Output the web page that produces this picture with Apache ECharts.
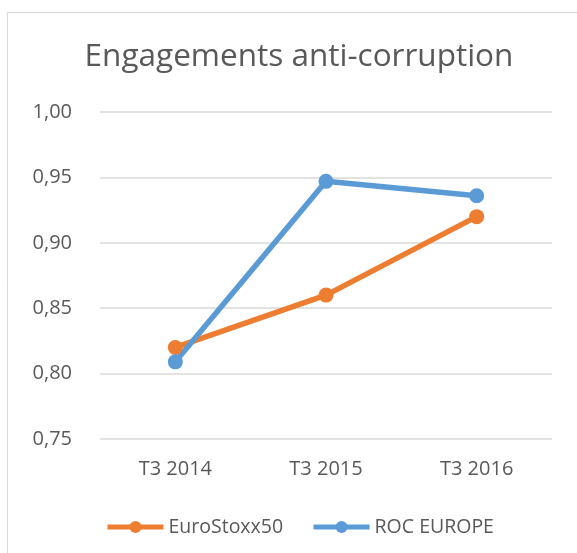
<!DOCTYPE html>
<html>
<head>
<meta charset="utf-8">
<script src="https://cdn.jsdelivr.net/npm/echarts@6/dist/echarts.min.js"></script>
<style>
  html, body { margin: 0; padding: 0; background: #fff; }
  #chart { width: 577px; height: 553px; }
</style>
</head>
<body>
<div id="chart"></div>
<script>
// données
var categories = ['T3 2014', 'T3 2015', 'T3 2016'];
var euroStoxx = [0.82, 0.86, 0.92];
var rocEurope = [0.809, 0.947, 0.936];

var font = 'Open Sans, Liberation Sans, sans-serif';
var chart = echarts.init(document.getElementById('chart'));

chart.setOption({
  color: ['#ED7D31', '#5B9BD5'],
  textStyle: { fontFamily: font, color: '#595959' },
  graphic: [{
    type: 'rect',
    shape: { x: 7.5, y: 12.5, width: 640, height: 640 },
    style: { fill: 'none', stroke: '#D9D9D9', lineWidth: 1 },
    silent: true
  }],
  title: {
    text: 'Engagements anti-corruption',
    left: 294, top: 36, textAlign: 'center',
    textStyle: { fontFamily: font, fontSize: 31.5, fontWeight: 'normal', color: '#595959' }
  },
  grid: { left: 100, right: 25, top: 112, bottom: 114 },
  legend: {
    top: 512, left: 100,
    itemWidth: 56, itemHeight: 15, itemGap: 28,
    lineStyle: { width: 5 },
    textStyle: { fontFamily: font, fontSize: 19.5, color: '#595959' },
    data: ['EuroStoxx50', 'ROC EUROPE']
  },
  xAxis: {
    type: 'category',
    data: categories,
    boundaryGap: true,
    axisLine: { show: false },
    axisTick: { show: false },
    axisLabel: { fontSize: 20, color: '#595959', margin: 20 }
  },
  yAxis: {
    type: 'value',
    min: 0.75, max: 1.0, interval: 0.05,
    axisLine: { show: false },
    axisTick: { show: false },
    splitLine: { lineStyle: { color: '#D9D9D9', width: 1.5 } },
    axisLabel: {
      fontSize: 20, color: '#595959', margin: 28,
      formatter: function (v) { return v.toFixed(2).replace('.', ','); }
    }
  },
  series: [
    {
      name: 'EuroStoxx50', type: 'line', data: euroStoxx,
      symbol: 'circle', symbolSize: 15,
      lineStyle: { width: 5.5 }
    },
    {
      name: 'ROC EUROPE', type: 'line', data: rocEurope,
      symbol: 'circle', symbolSize: 15,
      lineStyle: { width: 5.5 }
    }
  ]
});
</script>
</body>
</html>
